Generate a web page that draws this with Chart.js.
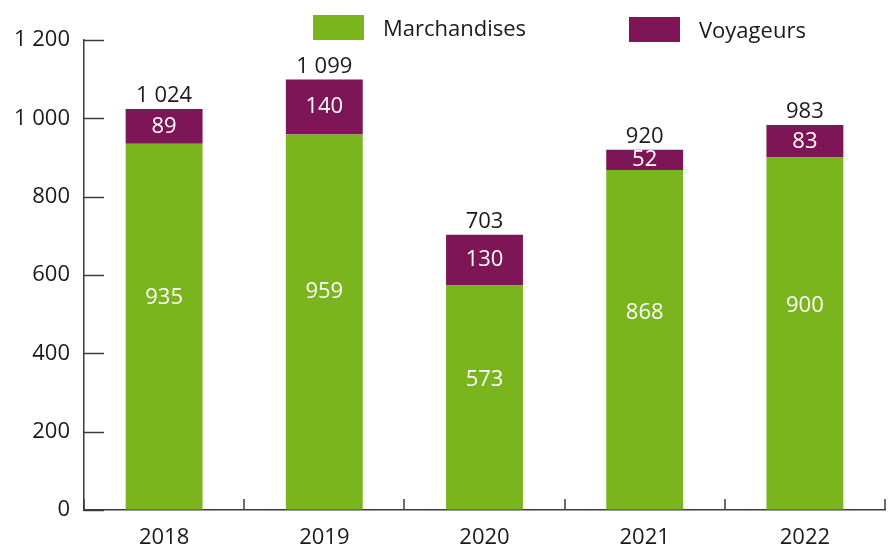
<!DOCTYPE html>
<html lang="fr">
<head>
<meta charset="utf-8">
<title>Marchandises et voyageurs</title>
<script src="https://cdn.jsdelivr.net/npm/chart.js@4"></script>
<style>
  body { margin: 0; background: #fff; font-family: "Open Sans", sans-serif; }
  #wrap { position: relative; width: 893px; height: 550px; }
  #legend { position: absolute; top: 0; left: 0; width: 893px; height: 50px; }
  .item { position: absolute; display: flex; align-items: center; font-size: 22px; color: #1a1a1a; line-height: 25px; }
  .box { width: 51px; height: 25px; margin-right: 19px; }
</style>
</head>
<body>
<div id="wrap">
  <canvas id="chart" width="893" height="550"></canvas>
  <div id="legend"></div>
</div>
<script>
/* ===== DATA ===== */
const years = ["2018", "2019", "2020", "2021", "2022"];
const marchandises = [935, 959, 573, 868, 900];
const voyageurs = [89, 140, 130, 52, 83];
const yTicks = [0, 200, 400, 600, 800, 1000, 1200];

const GREEN = "#7ab51d";
const PURPLE = "#7d1557";
const AXIS = "#3c3c3c";
const FONT = "'Open Sans', sans-serif";

function fmt(n) {
  const s = String(n);
  return s.length > 3 ? s.slice(0, -3) + " " + s.slice(-3) : s;
}

/* ===== LABELS + INNER TICKS ===== */
const decor = {
  id: "decor",
  afterDatasetsDraw(chart) {
    const ctx = chart.ctx;
    const x = chart.scales.x;
    const y = chart.scales.y;
    const area = chart.chartArea;

    ctx.save();
    ctx.strokeStyle = AXIS;
    ctx.lineWidth = 1.5;

    // y ticks pointing into the chart
    yTicks.forEach(v => {
      const py = Math.round(y.getPixelForValue(v)) + 0.5;
      ctx.beginPath();
      ctx.moveTo(area.left, py);
      ctx.lineTo(area.left + 20, py);
      ctx.stroke();
    });

    // x ticks between categories
    const half = (x.getPixelForValue(1) - x.getPixelForValue(0)) / 2;
    for (let i = 0; i <= years.length; i++) {
      const px = Math.round(x.getPixelForValue(i) - half);
      ctx.beginPath();
      ctx.moveTo(px, area.bottom);
      ctx.lineTo(px, area.bottom - 11);
      ctx.stroke();
    }

    ctx.font = "22px " + FONT;
    ctx.textAlign = "center";
    ctx.textBaseline = "middle";

    const m0 = chart.getDatasetMeta(0).data;
    const m1 = chart.getDatasetMeta(1).data;
    years.forEach((yr, i) => {
      const g = m0[i];
      const p = m1[i];
      ctx.fillStyle = "#ffffff";
      ctx.fillText(marchandises[i], g.x, g.y + (g.base - g.y) * 0.42);
      ctx.fillText(voyageurs[i], p.x, (p.y + p.base) / 2);
      ctx.fillStyle = "#1a1a1a";
      ctx.textBaseline = "alphabetic";
      ctx.fillText(fmt(marchandises[i] + voyageurs[i]), p.x, p.y - 7);
      ctx.textBaseline = "middle";
    });
    ctx.restore();
  }
};

/* ===== CHART ===== */
const chart = new Chart(document.getElementById("chart"), {
  type: "bar",
  data: {
    labels: years,
    datasets: [
      { label: "Marchandises", data: marchandises, backgroundColor: GREEN },
      { label: "Voyageurs", data: voyageurs, backgroundColor: PURPLE }
    ]
  },
  options: {
    responsive: false,
    animation: false,
    layout: { padding: { top: 40, right: 8, left: 0, bottom: 0 } },
    datasets: { bar: { barPercentage: 0.48, categoryPercentage: 1 } },
    plugins: { legend: { display: false }, tooltip: { enabled: false } },
    scales: {
      x: {
        stacked: true,
        grid: { display: false, drawTicks: false },
        border: { display: true, color: AXIS, width: 1.5 },
        ticks: { color: "#1a1a1a", font: { family: FONT, size: 22 }, padding: 15 },
        afterFit(s) { s.height = 40; }
      },
      y: {
        stacked: true,
        min: 0,
        max: 1200,
        grid: { drawOnChartArea: false, drawTicks: false },
        border: { display: true, color: AXIS, width: 1.5 },
        ticks: {
          stepSize: 200,
          color: "#1a1a1a",
          font: { family: FONT, size: 22 },
          padding: 14,
          callback: v => fmt(v)
        },
        afterFit(s) { s.width = 84; }
      }
    }
  },
  plugins: [decor]
});

/* ===== LEGEND ===== */
const legendPos = [{ left: 313, top: 15 }, { left: 629, top: 17 }];
const legend = document.getElementById("legend");
chart.data.datasets.forEach((d, i) => {
  const el = document.createElement("div");
  el.className = "item";
  el.style.left = legendPos[i].left + "px";
  el.style.top = legendPos[i].top + "px";
  el.innerHTML = `<span class="box" style="background:${d.backgroundColor}"></span><span>${d.label}</span>`;
  legend.appendChild(el);
});
</script>
</body>
</html>
